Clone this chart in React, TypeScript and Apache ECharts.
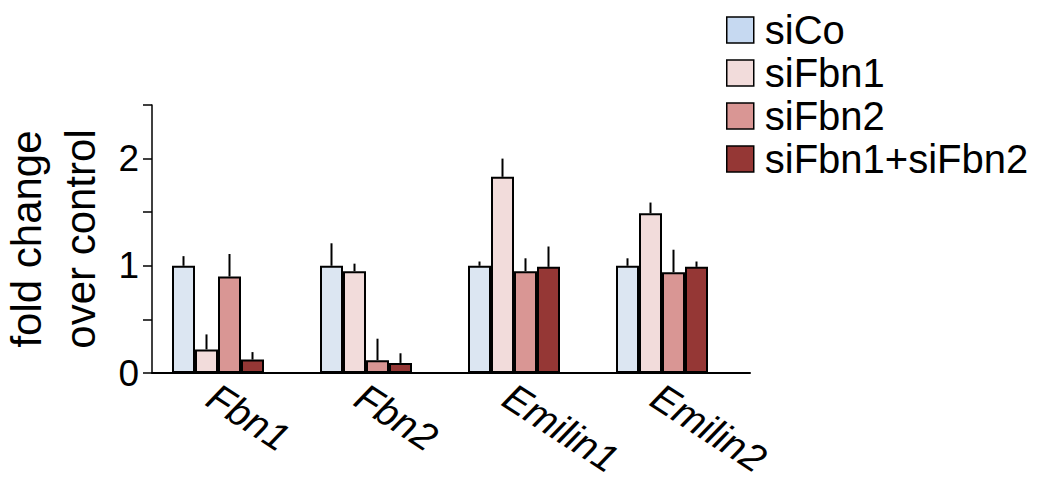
import React, { useEffect, useRef } from "react";
import * as echarts from "echarts";

const categories = ["Fbn1", "Fbn2", "Emilin1", "Emilin2"];
const seriesNames = ["siCo", "siFbn1", "siFbn2", "siFbn1+siFbn2"];
const siCo = [1.0, 1.0, 1.0, 1.0];
const siFbn1 = [0.22, 0.95, 1.83, 1.49];
const siFbn2 = [0.9, 0.12, 0.95, 0.94];
const siCombo = [0.125, 0.094, 0.99, 0.99];
const errSiCo = [0.09, 0.21, 0.04, 0.07];
const errSiFbn1 = [0.14, 0.07, 0.17, 0.1];
const errSiFbn2 = [0.21, 0.2, 0.12, 0.21];
const errSiCombo = [0.07, 0.09, 0.19, 0.05];
const barColors = ["#dce6f2", "#f2dcdb", "#d99694", "#953735"];
const legendColors = ["#c6d9f1", "#f2dcdb", "#d99694", "#953735"];

const FONT = "'Liberation Sans', Arial, sans-serif";
const BAR_W = 23;

export default function App() {
  const ref = useRef<HTMLDivElement>(null);
  useEffect(() => {
    if (!ref.current) return;
    const chart = echarts.init(ref.current, undefined, { renderer: "svg" });
    const values = [siCo, siFbn1, siFbn2, siCombo];
    const errs = [errSiCo, errSiFbn1, errSiFbn2, errSiCombo];
    const errData: number[][] = [];
    values.forEach((vals, s) => {
      vals.forEach((v, c) => errData.push([c, v, errs[s][c], s]));
    });
    const grid = { top: 105, height: 268, outerBoundsMode: "none", containLabel: false };
    chart.setOption({
      animation: false,
      textStyle: { fontFamily: FONT },
      grid: [
        { left: 144, width: 592, ...grid },
        { left: 152, width: 598, ...grid },
        { left: 137, width: 592, ...grid },
      ],
      legend: {
        orient: "vertical",
        left: 721,
        top: 5,
        itemWidth: 27,
        itemHeight: 26,
        itemGap: 3,
        icon: "rect",
        textStyle: { fontSize: 40, lineHeight: 40, color: "#000", fontFamily: FONT, padding: [0, 0, 0, 6] },
        data: seriesNames.map((n, i) => ({
          name: n,
          itemStyle: { color: legendColors[i], borderColor: "#000", borderWidth: 1.5 },
        })),
        selectedMode: false,
      },
      xAxis: [
        {
          type: "category",
          gridIndex: 0,
          data: categories,
          axisLine: { show: false },
          axisTick: { show: false },
          axisLabel: { show: false },
        },
        {
          type: "value",
          gridIndex: 1,
          min: 0,
          max: 1,
          axisLine: { show: true, lineStyle: { color: "#000", width: 2 } },
          axisTick: { show: false },
          axisLabel: { show: false },
          splitLine: { show: false },
        },
        {
          type: "category",
          gridIndex: 2,
          data: categories,
          axisLine: { show: false },
          axisTick: { show: false },
          axisLabel: {
            rotate: -33,
            fontSize: 39,
            lineHeight: 32,
            fontStyle: "italic",
            color: "#000",
            margin: 20,
            fontFamily: FONT,
          },
        },
      ],
      yAxis: [
        { type: "value", gridIndex: 0, min: 0, max: 2.5, show: false },
        {
          type: "value",
          gridIndex: 1,
          min: 0,
          max: 2.5,
          interval: 0.5,
          name: "fold change\nover control",
          nameLocation: "middle",
          nameRotate: 90,
          nameGap: 43,
          nameTextStyle: { fontSize: 42, lineHeight: 54, color: "#000", fontFamily: FONT },
          axisLine: { show: true, lineStyle: { color: "#000", width: 1.5 } },
          axisTick: { show: true, length: 9, lineStyle: { color: "#000", width: 1.5 } },
          axisLabel: {
            fontSize: 37,
            color: "#000",
            margin: 13,
            fontFamily: FONT,
            formatter: (v: number) => (Number.isInteger(v) ? String(v) : ""),
          },
          splitLine: { show: false },
        },
        { type: "value", gridIndex: 2, min: 0, max: 2.5, show: false },
      ],
      series: [
        ...values.map((vals, i) => ({
          type: "bar",
          name: seriesNames[i],
          xAxisIndex: 0,
          yAxisIndex: 0,
          data: vals,
          barWidth: BAR_W,
          barGap: "0%",
          itemStyle: { color: barColors[i], borderColor: "#000", borderWidth: 2 },
        })),
        {
          type: "custom",
          name: "err",
          xAxisIndex: 0,
          yAxisIndex: 0,
          data: errData,
          z: 1,
          renderItem: (params: any, api: any) => {
            const c = api.value(0);
            const v = api.value(1);
            const e = api.value(2);
            const s = api.value(3);
            const p0 = api.coord([c, v]);
            const p1 = api.coord([c, v + e]);
            const x = p0[0] + (s - 1.5) * BAR_W;
            return {
              type: "line",
              shape: { x1: x, y1: p0[1], x2: x, y2: p1[1] },
              style: { stroke: "#000", lineWidth: 2 },
            };
          },
        },
      ],
    });
    return () => chart.dispose();
  }, []);
  return (
    <div
      ref={ref}
      style={{ position: "fixed", left: 0, top: 0, width: 1051, height: 486, background: "#fff" }}
    />
  );
}
